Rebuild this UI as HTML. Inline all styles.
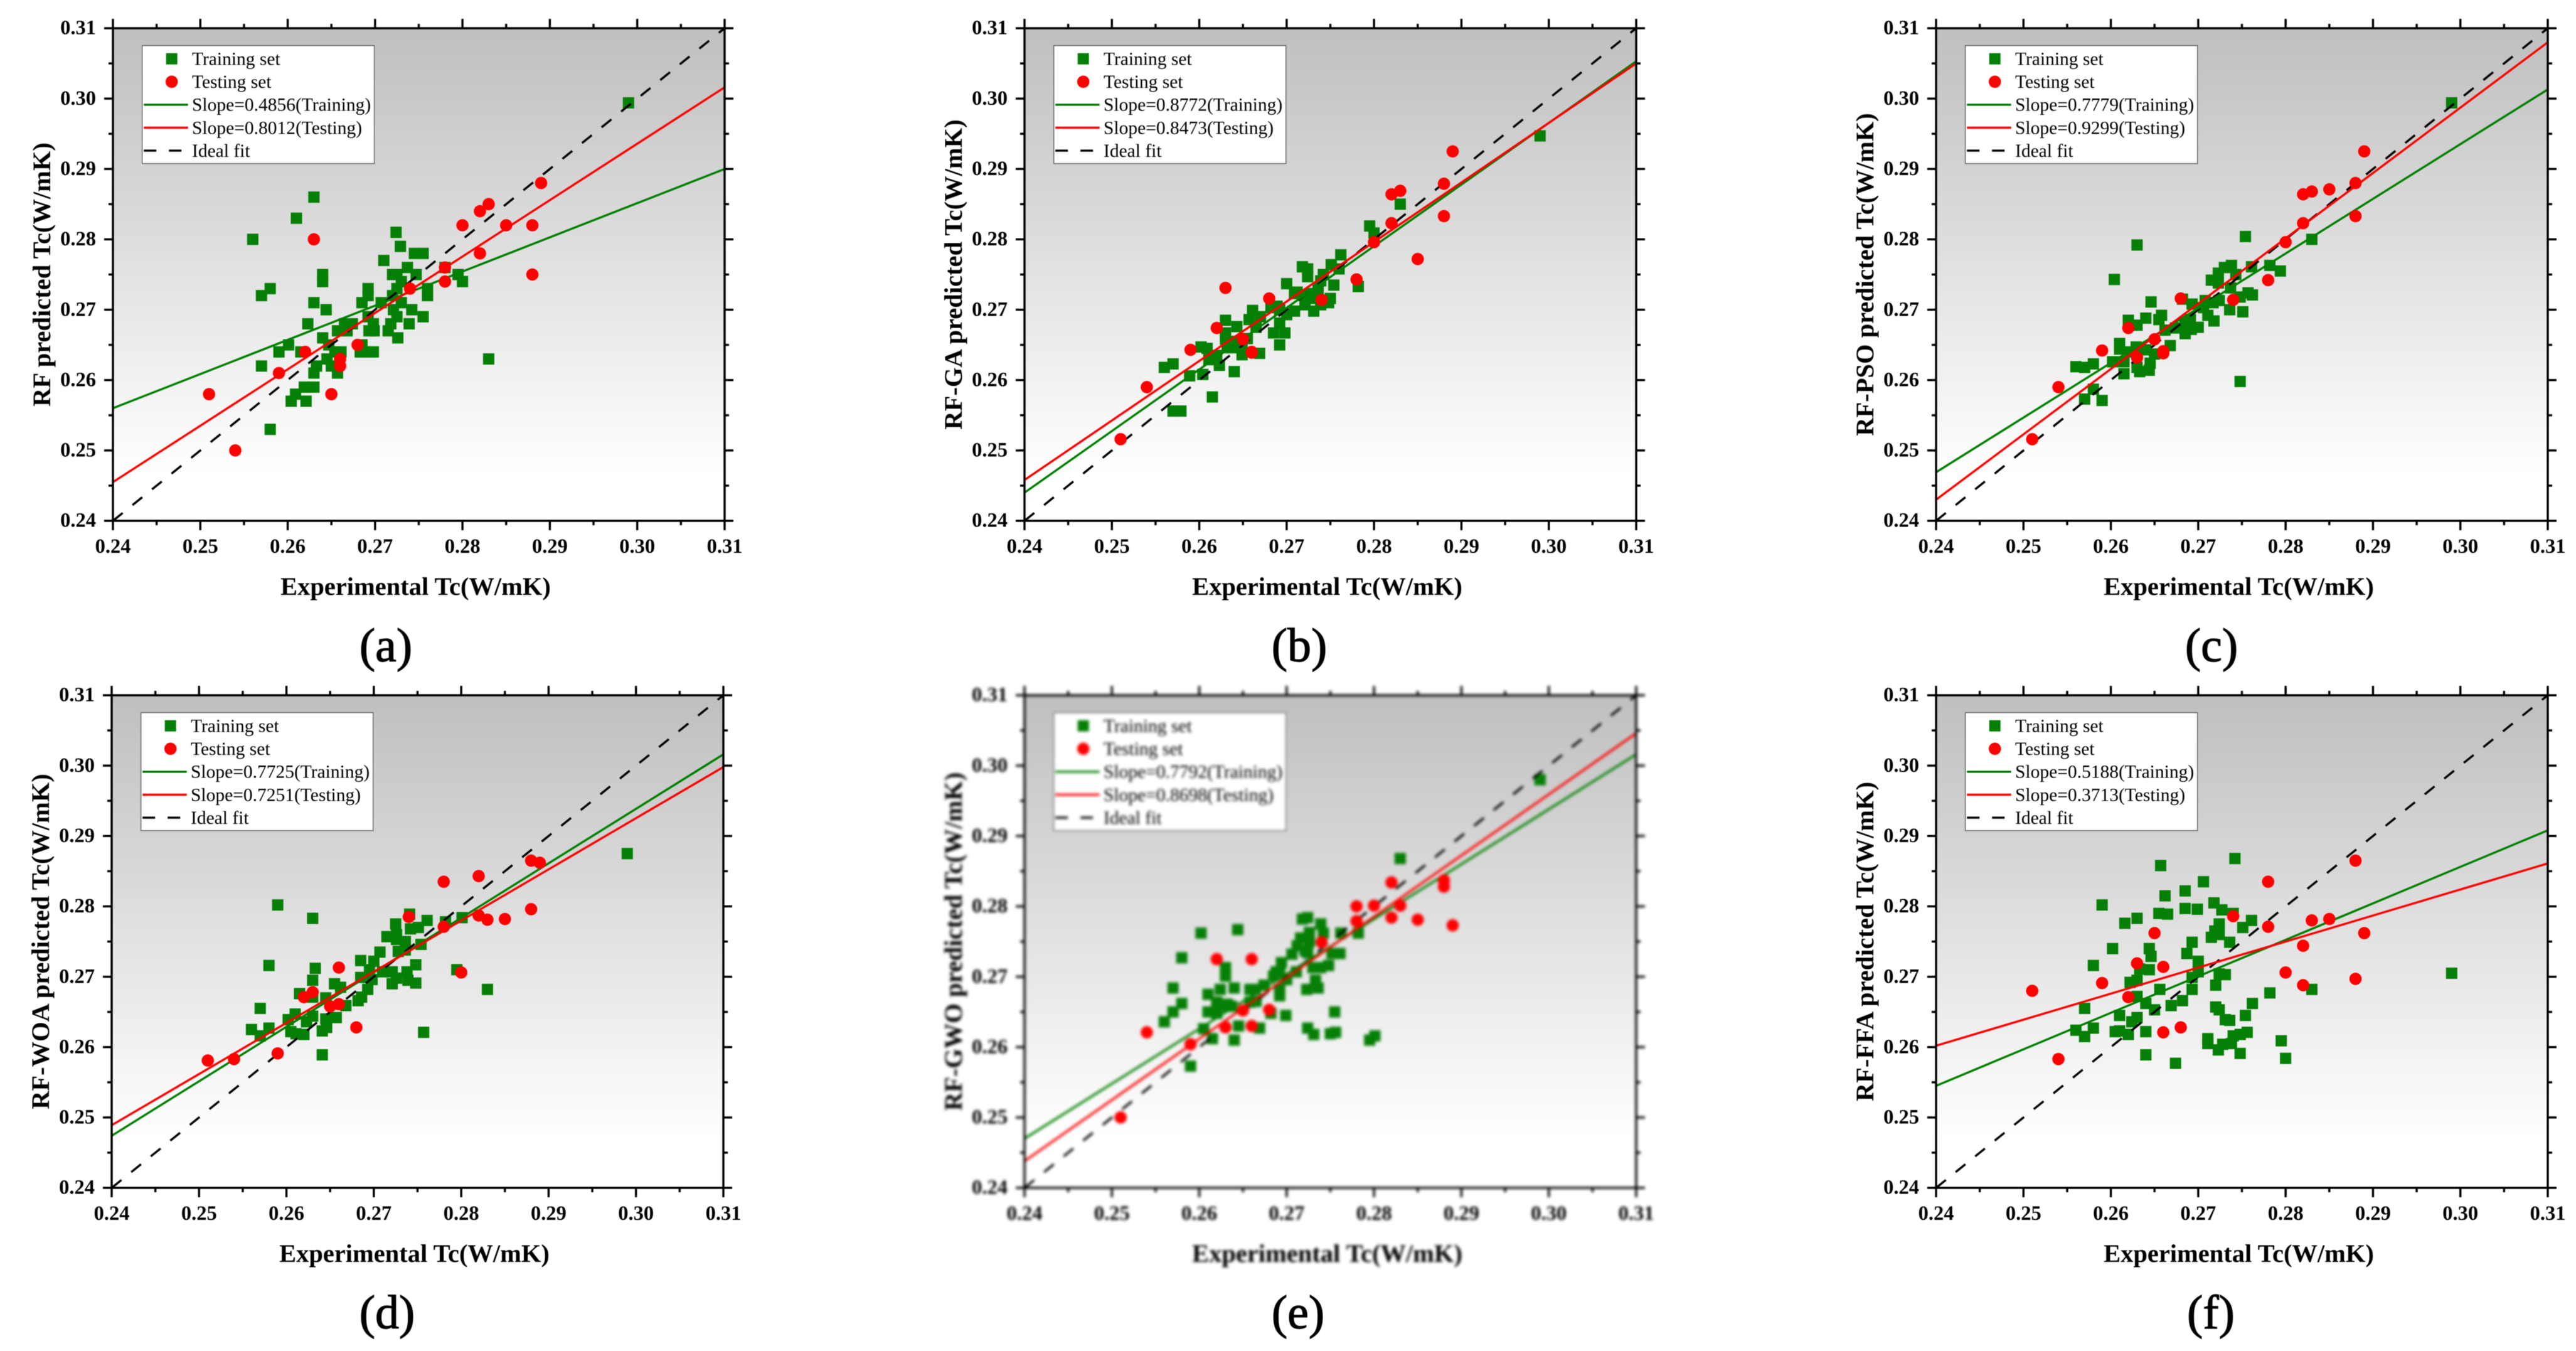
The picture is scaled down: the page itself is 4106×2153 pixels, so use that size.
<!DOCTYPE html>
<html lang="en">
<head>
<meta charset="utf-8">
<title>Predicted vs experimental thermal conductivity for six RF models</title>
<style>
html,body{margin:0;padding:0;background:#fff;}
#figure{display:block;width:4106px;height:2153px;font-family:"Liberation Serif",serif;}
.sharp{filter:blur(0.55px);}
.blurry{filter:blur(2.3px);}
</style>
</head>
<body>
<svg id="figure" xmlns="http://www.w3.org/2000/svg" width="4106" height="2153" viewBox="0 0 4106 2153">
<defs>
<linearGradient id="plot-bg" x1="0" y1="0" x2="0" y2="1">
<stop offset="0" stop-color="#bfbfbf"/>
<stop offset="0.9" stop-color="#ffffff"/>
<stop offset="1" stop-color="#ffffff"/>
</linearGradient>
</defs>
</svg>
<script>
const axisTickLabels = ["0.24","0.25","0.26","0.27","0.28","0.29","0.30","0.31"];
const axisMajorTicks = [0.24,0.25,0.26,0.27,0.28,0.29,0.30,0.31];
const axisMinorTicks = [0.245,0.255,0.265,0.275,0.285,0.295,0.305];
const idealFit = [0.24,0.31];

const panelATrainX = [0.263,0.261,0.256,0.2724,0.2729,0.2745,0.2755,0.271,0.2737,0.264,0.264,0.272,0.2725,0.2747,0.258,0.257,0.2692,0.2692,0.2725,0.273,0.276,0.276,0.263,0.2685,0.2707,0.273,0.272,0.2644,0.2721,0.2742,0.2692,0.2725,0.2755,0.2623,0.2665,0.2674,0.2698,0.2718,0.2739,0.2657,0.2668,0.2693,0.2699,0.2715,0.264,0.2726,0.2601,0.2647,0.2685,0.259,0.2615,0.2654,0.2661,0.2683,0.2691,0.2698,0.2645,0.283,0.257,0.2633,0.265,0.263,0.2657,0.2619,0.263,0.2609,0.2604,0.2621,0.258,0.299,0.28,0.2795,0.278];
const panelATrainY = [0.286,0.283,0.28,0.281,0.279,0.278,0.278,0.277,0.276,0.275,0.274,0.275,0.275,0.275,0.273,0.272,0.273,0.272,0.273,0.274,0.273,0.272,0.271,0.271,0.271,0.271,0.272,0.27,0.27,0.27,0.269,0.269,0.269,0.268,0.268,0.268,0.268,0.268,0.268,0.267,0.267,0.267,0.267,0.267,0.266,0.266,0.265,0.265,0.265,0.264,0.264,0.264,0.264,0.264,0.264,0.264,0.263,0.263,0.262,0.262,0.262,0.261,0.261,0.259,0.259,0.258,0.257,0.257,0.253,0.2994,0.274,0.275,0.276];
const panelATestX = [0.251,0.254,0.259,0.262,0.263,0.265,0.266,0.266,0.268,0.274,0.278,0.278,0.28,0.282,0.282,0.283,0.285,0.288,0.288,0.289];
const panelATestY = [0.258,0.25,0.261,0.264,0.28,0.258,0.263,0.262,0.265,0.273,0.276,0.274,0.282,0.284,0.278,0.285,0.282,0.282,0.275,0.288];
const panelAFitTrain = [0.256,0.29];
const panelAFitTest = [0.2455,0.3016];

const panelBTrainX = [0.299,0.283,0.2795,0.28,0.2762,0.2751,0.276,0.2754,0.2718,0.2724,0.2724,0.2742,0.2739,0.27,0.2782,0.2709,0.2712,0.2721,0.2727,0.2736,0.273,0.275,0.2748,0.2739,0.2721,0.2731,0.2709,0.27,0.2661,0.267,0.2657,0.263,0.2643,0.2665,0.2692,0.2692,0.2682,0.2689,0.2685,0.2698,0.2692,0.263,0.263,0.2655,0.2643,0.2639,0.2632,0.2649,0.2602,0.2609,0.2669,0.2649,0.262,0.2611,0.2623,0.264,0.256,0.257,0.2589,0.2604,0.2615,0.257,0.2579];
const panelBTrainY = [0.2947,0.285,0.2819,0.2809,0.2778,0.2764,0.2758,0.2735,0.2761,0.2758,0.2747,0.275,0.2741,0.2737,0.2733,0.2723,0.2725,0.272,0.2723,0.2729,0.2716,0.2716,0.271,0.2707,0.2707,0.2698,0.2698,0.2693,0.2699,0.269,0.2686,0.2685,0.2676,0.2675,0.2681,0.27,0.2703,0.2705,0.2667,0.2667,0.265,0.2667,0.2658,0.2659,0.2655,0.2646,0.2646,0.2652,0.2647,0.2645,0.2638,0.2636,0.2635,0.2629,0.2621,0.2612,0.2618,0.2623,0.2606,0.2608,0.2576,0.2556,0.2556];
const panelBTestX = [0.251,0.254,0.259,0.262,0.263,0.265,0.266,0.266,0.268,0.274,0.278,0.28,0.282,0.282,0.283,0.285,0.288,0.288,0.289];
const panelBTestY = [0.2516,0.259,0.2643,0.2674,0.2731,0.2658,0.264,0.2639,0.2716,0.2714,0.2743,0.2796,0.2864,0.2823,0.2869,0.2772,0.2879,0.2833,0.2925];
const panelBFitTrain = [0.244,0.3053];
const panelBFitTest = [0.2458,0.305];

const panelCTrainX = [0.299,0.2754,0.263,0.2604,0.283,0.2782,0.2794,0.2761,0.2738,0.273,0.2723,0.2743,0.2715,0.2723,0.2737,0.2757,0.2762,0.2748,0.2751,0.2736,0.2748,0.2724,0.2717,0.2708,0.2706,0.2711,0.2718,0.2646,0.2693,0.2682,0.264,0.2658,0.2655,0.262,0.263,0.2662,0.2674,0.2685,0.2691,0.27,0.2692,0.2685,0.2668,0.261,0.261,0.2629,0.2622,0.264,0.265,0.2602,0.2615,0.2615,0.2633,0.263,0.2644,0.2645,0.256,0.257,0.258,0.258,0.257,0.259];
const panelCTrainY = [0.2994,0.2804,0.2792,0.2743,0.28,0.2763,0.2755,0.2761,0.2763,0.276,0.2752,0.275,0.2742,0.2738,0.2731,0.2724,0.2721,0.2718,0.2697,0.27,0.2598,0.2713,0.271,0.2713,0.2703,0.2692,0.2684,0.2711,0.2708,0.2715,0.2688,0.2692,0.2686,0.2685,0.2678,0.2671,0.2674,0.268,0.2686,0.2675,0.2672,0.2666,0.2649,0.2652,0.2644,0.2647,0.264,0.2643,0.2637,0.2626,0.2626,0.2609,0.2612,0.2618,0.2614,0.2624,0.2619,0.2618,0.2623,0.2587,0.2573,0.2571];
const panelCTestX = [0.251,0.254,0.259,0.262,0.263,0.265,0.266,0.266,0.268,0.274,0.278,0.28,0.282,0.282,0.283,0.285,0.288,0.288,0.289];
const panelCTestY = [0.2516,0.259,0.2642,0.2674,0.2632,0.2658,0.2638,0.2641,0.2716,0.2714,0.2742,0.2796,0.2864,0.2823,0.2868,0.2871,0.288,0.2833,0.2925];
const panelCFitTrain = [0.2469,0.3013];
const panelCFitTest = [0.243,0.308];

const panelDTrainX = [0.299,0.259,0.263,0.258,0.2633,0.2741,0.2761,0.2742,0.2751,0.2725,0.2782,0.2801,0.2715,0.2726,0.2726,0.2736,0.2754,0.2736,0.2728,0.2707,0.27,0.2685,0.2748,0.2695,0.271,0.2721,0.2738,0.2685,0.2795,0.2721,0.2726,0.2739,0.2748,0.2698,0.263,0.2655,0.2662,0.2693,0.2615,0.263,0.2645,0.2686,0.2682,0.2668,0.257,0.261,0.2602,0.263,0.2623,0.2645,0.2657,0.256,0.258,0.257,0.2605,0.2611,0.262,0.2641,0.2646,0.2641,0.2757,0.283];
const panelDTrainY = [0.2875,0.2802,0.2783,0.2716,0.2712,0.2789,0.278,0.2768,0.277,0.2775,0.2778,0.2784,0.2757,0.276,0.2753,0.275,0.2746,0.2738,0.2736,0.2735,0.2722,0.2723,0.2717,0.271,0.2707,0.2707,0.2707,0.2699,0.271,0.269,0.2698,0.2695,0.2691,0.2696,0.2695,0.269,0.2685,0.2682,0.2676,0.2671,0.267,0.2671,0.2666,0.2659,0.2655,0.2647,0.2639,0.2644,0.2636,0.264,0.2642,0.2625,0.2627,0.2616,0.2622,0.2619,0.2618,0.2623,0.2628,0.2589,0.2621,0.2682];
const panelDTestX = [0.251,0.254,0.259,0.262,0.263,0.265,0.266,0.266,0.268,0.274,0.278,0.278,0.28,0.282,0.282,0.283,0.285,0.288,0.288,0.289];
const panelDTestY = [0.2581,0.2583,0.2591,0.2671,0.2678,0.2658,0.2713,0.2661,0.2628,0.2785,0.2835,0.2771,0.2706,0.2843,0.2787,0.2781,0.2782,0.2865,0.2796,0.2862];
const panelDFitTrain = [0.2474,0.3016];
const panelDFitTest = [0.2489,0.2998];

const panelETrainX = [0.299,0.283,0.2602,0.2644,0.258,0.263,0.263,0.257,0.258,0.257,0.256,0.261,0.2624,0.264,0.2658,0.2664,0.261,0.262,0.2626,0.2632,0.2637,0.262,0.2658,0.2665,0.2605,0.2615,0.264,0.2645,0.2669,0.259,0.2682,0.2699,0.2674,0.2685,0.2688,0.2694,0.2692,0.2692,0.2692,0.27,0.2711,0.2706,0.2712,0.2716,0.2718,0.2724,0.2726,0.2726,0.2721,0.2739,0.2742,0.2724,0.273,0.2739,0.2748,0.2733,0.2736,0.2723,0.2752,0.2761,0.2762,0.2782,0.2755,0.2724,0.2731,0.275,0.2756,0.2795,0.2801];
const panelETrainY = [0.298,0.2868,0.2762,0.2767,0.2727,0.2713,0.2701,0.2684,0.2662,0.265,0.2636,0.2675,0.2682,0.2684,0.2682,0.2682,0.265,0.2664,0.2658,0.2661,0.2658,0.2648,0.2664,0.2665,0.2626,0.2612,0.261,0.263,0.2627,0.2573,0.2648,0.2645,0.2688,0.2701,0.2707,0.272,0.2707,0.2682,0.2673,0.2696,0.2707,0.2732,0.2744,0.2755,0.2782,0.2784,0.2763,0.275,0.2737,0.2775,0.2762,0.2734,0.2713,0.2713,0.2716,0.2695,0.2684,0.2682,0.2733,0.2733,0.2762,0.2762,0.265,0.2627,0.2618,0.2619,0.2621,0.261,0.2616];
const panelETestX = [0.251,0.254,0.259,0.262,0.263,0.265,0.266,0.266,0.268,0.274,0.278,0.278,0.28,0.282,0.282,0.283,0.285,0.288,0.288,0.289];
const panelETestY = [0.25,0.2621,0.2604,0.2725,0.2628,0.2652,0.2725,0.263,0.2653,0.2749,0.28,0.2779,0.2801,0.2834,0.2784,0.2801,0.2781,0.2837,0.2828,0.2773];
const panelEFitTrain = [0.247,0.3016];
const panelEFitTest = [0.2438,0.3046];

const panelFTrainX = [0.299,0.2742,0.2657,0.2706,0.2685,0.2662,0.2718,0.259,0.2685,0.2699,0.2727,0.2655,0.2665,0.274,0.263,0.2616,0.2724,0.2751,0.2761,0.2719,0.2724,0.2715,0.2693,0.2736,0.2602,0.2644,0.2646,0.2687,0.27,0.258,0.2633,0.2644,0.27,0.2693,0.2724,0.2731,0.2622,0.263,0.272,0.2693,0.2656,0.283,0.2782,0.263,0.2682,0.264,0.2669,0.2762,0.257,0.265,0.272,0.2724,0.261,0.263,0.2624,0.2754,0.2731,0.2736,0.256,0.258,0.257,0.2605,0.261,0.262,0.264,0.2711,0.2711,0.274,0.2748,0.2756,0.2728,0.2738,0.2723,0.2748,0.264,0.2674,0.2795,0.28];
const panelFTrainY = [0.2705,0.2868,0.2858,0.2835,0.2822,0.2815,0.2805,0.2802,0.2797,0.2796,0.2795,0.279,0.2789,0.279,0.2783,0.2776,0.2775,0.277,0.278,0.2765,0.276,0.2756,0.2749,0.2749,0.274,0.274,0.2729,0.2733,0.2722,0.2716,0.2711,0.271,0.2707,0.2699,0.2704,0.2703,0.2692,0.2695,0.2688,0.2682,0.2682,0.2682,0.2677,0.2672,0.2666,0.2662,0.2659,0.2662,0.2655,0.2653,0.2657,0.2653,0.2645,0.2642,0.2636,0.2645,0.2639,0.2638,0.2624,0.2627,0.2615,0.2622,0.2623,0.2618,0.2622,0.2612,0.2605,0.2616,0.2618,0.2621,0.2604,0.2605,0.2596,0.2591,0.2589,0.2577,0.2609,0.2584];
const panelFTestX = [0.251,0.254,0.259,0.262,0.263,0.265,0.266,0.266,0.268,0.274,0.278,0.278,0.28,0.282,0.282,0.283,0.285,0.288,0.288,0.289];
const panelFTestY = [0.268,0.2583,0.2691,0.2671,0.2719,0.2762,0.2714,0.2621,0.2628,0.2786,0.2835,0.2771,0.2706,0.2744,0.2688,0.278,0.2782,0.2865,0.2697,0.2762];
const panelFFitTrain = [0.2545,0.2908];
const panelFFitTest = [0.2602,0.2861];

const panelLetters = ["a","b","c","d","e","f"];
const panelYTitles = ["RF predicted Tc(W/mK)","RF-GA predicted Tc(W/mK)","RF-PSO predicted Tc(W/mK)","RF-WOA predicted Tc(W/mK)","RF-GWO predicted Tc(W/mK)","RF-FFA predicted Tc(W/mK)"];
const panelTrainSlopes = ["0.4856","0.8772","0.7779","0.7725","0.7792","0.5188"];
const panelTestSlopes = ["0.8012","0.8473","0.9299","0.7251","0.8698","0.3713"];
const panelTrainXs = [panelATrainX,panelBTrainX,panelCTrainX,panelDTrainX,panelETrainX,panelFTrainX];
const panelTrainYs = [panelATrainY,panelBTrainY,panelCTrainY,panelDTrainY,panelETrainY,panelFTrainY];
const panelTestXs = [panelATestX,panelBTestX,panelCTestX,panelDTestX,panelETestX,panelFTestX];
const panelTestYs = [panelATestY,panelBTestY,panelCTestY,panelDTestY,panelETestY,panelFTestY];
const panelFitTrains = [panelAFitTrain,panelBFitTrain,panelCFitTrain,panelDFitTrain,panelEFitTrain,panelFFitTrain];
const panelFitTests = [panelAFitTest,panelBFitTest,panelCFitTest,panelDFitTest,panelEFitTest,panelFFitTest];

const xTitleText = "Experimental Tc(W/mK)";
const legendTrainText = "Training set";
const legendTestText = "Testing set";
const legendIdealText = "Ideal fit";

const layoutLeft = [180,1633,3086,178,1633,3086];
const layoutTop = [45,45,45,1108,1108,1108];
const layoutCaptionX = [615,2071,3525,617,2069,3524];
const layoutCaptionY = [1054,1054,1054,2117,2117,2117];
const plotW = 975;
const plotH = 785;
const domainMin = 0.24;
const domainMax = 0.31;
const NS = "http://www.w3.org/2000/svg";
const root = document.getElementById("figure");

function make(tag, parent, attrs) {
  const el = document.createElementNS(NS, tag);
  for (const k in attrs) el.setAttribute(k, attrs[k]);
  parent.appendChild(el);
  return el;
}

function drawPanel(i) {
  const L = layoutLeft[i], T = layoutTop[i], R = L + plotW, B = T + plotH;
  const sx = v => L + (v - domainMin) / (domainMax - domainMin) * plotW;
  const sy = v => B - (v - domainMin) / (domainMax - domainMin) * plotH;

  const g = make("g", root, { class: i === 4 ? "blurry" : "sharp" });
  
  

  const bg = make("rect", g, { x: L, y: T, width: plotW, height: plotH, fill: "url(#plot-bg)" });
  
  

  const trainX = panelTrainXs[i], trainY = panelTrainYs[i];
  for (let k = 0; k < trainX.length; k++) {
    const sq = make("rect", g, { x: sx(trainX[k]) - 9, y: sy(trainY[k]) - 9, width: 18, height: 18, fill: "#067f06" });
    
    
  }

  const ideal = make("line", g, { x1: sx(idealFit[0]), y1: sy(idealFit[0]), x2: sx(idealFit[1]), y2: sy(idealFit[1]), stroke: "#000", "stroke-width": 3.4, "stroke-dasharray": "20 20" });
  
  

  const fitTrain = make("line", g, { x1: sx(domainMin), y1: sy(panelFitTrains[i][0]), x2: sx(domainMax), y2: sy(panelFitTrains[i][1]), stroke: "#008000", "stroke-width": 3.4 });
  
  

  const testX = panelTestXs[i], testY = panelTestYs[i];
  for (let k = 0; k < testX.length; k++) {
    const dot = make("circle", g, { cx: sx(testX[k]), cy: sy(testY[k]), r: 9.8, fill: "#ff0000" });
    
    
  }

  const fitTest = make("line", g, { x1: sx(domainMin), y1: sy(panelFitTests[i][0]), x2: sx(domainMax), y2: sy(panelFitTests[i][1]), stroke: "#ff0000", "stroke-width": 3.4 });
  
  

  const frame = make("rect", g, { x: L, y: T, width: plotW, height: plotH, fill: "none", stroke: "#000", "stroke-width": 3.4 });
  
  

  axisMajorTicks.forEach((v, k) => {
    const tickL = make("line", g, { x1: L - 14, x2: L, y1: sy(v), y2: sy(v), stroke: "#000", "stroke-width": 3.4 });
    
    
    const tickR = make("line", g, { x1: R, x2: R + 14, y1: sy(v), y2: sy(v), stroke: "#000", "stroke-width": 3.4 });
    
    
    const tickB = make("line", g, { x1: sx(v), x2: sx(v), y1: B, y2: B + 15, stroke: "#000", "stroke-width": 3.4 });
    
    
    const tickT = make("line", g, { x1: sx(v), x2: sx(v), y1: T - 15, y2: T, stroke: "#000", "stroke-width": 3.4 });
    
    

    const yLab = make("text", g, { x: L - 27, y: sy(v) + 9.7, "text-anchor": "end", "font-size": 32.5, "font-weight": "bold", fill: "#000" });
    yLab.textContent = axisTickLabels[k];
    
    
    const xLab = make("text", g, { x: sx(v), y: B + 51, "text-anchor": "middle", "font-size": 32.5, "font-weight": "bold", fill: "#000" });
    xLab.textContent = axisTickLabels[k];
    
    
  });

  axisMinorTicks.forEach(v => {
    const mL = make("line", g, { x1: L - 7, x2: L, y1: sy(v), y2: sy(v), stroke: "#000", "stroke-width": 3.4 });
    
    
    const mR = make("line", g, { x1: R, x2: R + 7, y1: sy(v), y2: sy(v), stroke: "#000", "stroke-width": 3.4 });
    
    
    const mB = make("line", g, { x1: sx(v), x2: sx(v), y1: B, y2: B + 7, stroke: "#000", "stroke-width": 3.4 });
    
    
    const mT = make("line", g, { x1: sx(v), x2: sx(v), y1: T - 7, y2: T, stroke: "#000", "stroke-width": 3.4 });
    
    
  });

  const xTitle = make("text", g, { x: L + plotW / 2 - 5, y: B + 118, "text-anchor": "middle", "font-size": 40.5, "font-weight": "bold", fill: "#000" });
  xTitle.textContent = xTitleText;
  
  

  const yTitle = make("text", g, { transform: "translate(" + (L - 100) + " " + (T + plotH / 2) + ") rotate(-90)", "text-anchor": "middle", "font-size": 40.5, "font-weight": "bold", fill: "#000" });
  yTitle.textContent = panelYTitles[i];
  
  

  const lx = L + 46.7, ly = T + 27.7;
  const legend = make("g", g, {});
  
  
  const box = make("rect", legend, { x: lx, y: ly, width: 370, height: 188, fill: "#fff", stroke: "#666", "stroke-width": 1.4 });
  
  

  const rowY = r => ly + 21 + 36.6 * r;
  const textY = r => ly + 30.6 + 36.7 * r;
  const legendTexts = [legendTrainText, legendTestText, "Slope=" + panelTrainSlopes[i] + "(Training)", "Slope=" + panelTestSlopes[i] + "(Testing)", legendIdealText];

  const lSq = make("rect", legend, { x: lx + 38, y: rowY(0) - 9, width: 18, height: 18, fill: "#067f06" });
  
  
  const lDot = make("circle", legend, { cx: lx + 47, cy: rowY(1), r: 9.8, fill: "#ff0000" });
  
  
  const lGreen = make("line", legend, { x1: lx + 2.5, x2: lx + 73, y1: rowY(2), y2: rowY(2), stroke: "#008000", "stroke-width": 3.4 });
  
  
  const lRed = make("line", legend, { x1: lx + 2.5, x2: lx + 73, y1: rowY(3), y2: rowY(3), stroke: "#ff0000", "stroke-width": 3.4 });
  
  
  const lDash = make("line", legend, { x1: lx + 2.5, x2: lx + 73, y1: rowY(4), y2: rowY(4), stroke: "#000", "stroke-width": 3.4, "stroke-dasharray": "20 20" });
  
  

  legendTexts.forEach((t, r) => {
    const lt = make("text", legend, { x: lx + 79.3, y: textY(r), "font-size": 29.5, fill: "#000" });
    lt.textContent = t;
    
    
  });

  const caption = make("text", root, { x: layoutCaptionX[i], y: layoutCaptionY[i], "text-anchor": "middle", "font-size": 76, fill: "#000", stroke: "#000", "stroke-width": 1.2, class: "sharp" });
  caption.textContent = "(" + panelLetters[i] + ")";
  
  
}

panelLetters.forEach((_, i) => drawPanel(i));
</script>
</body>
</html>
